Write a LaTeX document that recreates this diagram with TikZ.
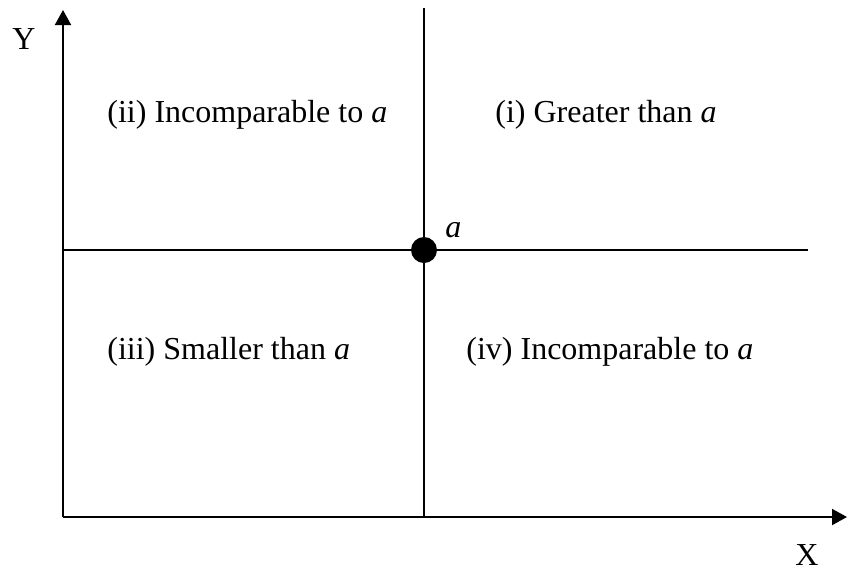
\documentclass[tikz,border=0pt]{standalone}
\usepackage{fontspec}
\setmainfont{Liberation Serif}
\usetikzlibrary{arrows.meta}
\begin{document}
\begin{tikzpicture}[x=0.5pt,y=-0.5pt,
    axis/.style={line width=1pt,-{Triangle[length=7.5pt,width=8pt]}},
    divider/.style={line width=0.8pt},
    region/.style={anchor=base west,inner sep=0pt,font=\fontsize{16}{19}\selectfont}]
  \useasboundingbox (0,0) rectangle (847,570);

  % Axes
  \coordinate (origin) at (63,517);
  \coordinate (ytip) at (63,10);
  \coordinate (xtip) at (847,517);
  \draw[axis] (origin) -- (ytip);
  \draw[axis] (origin) -- (xtip);
  \node[region] (ylab) at (12,49) {Y};
  \node[region] (xlab) at (795,565) {X};

  % Lines through a
  \coordinate (vtop) at (424,8);
  \coordinate (vbot) at (424,517);
  \coordinate (hleft) at (63,250);
  \coordinate (hright) at (808,250);
  \draw[divider] (vtop) -- (vbot);
  \draw[divider] (hleft) -- (hright);
  \node[circle,fill,inner sep=0pt,minimum size=13pt] (a) at (424,250) {};
  \node[region] (alab) at (445,237) {\itshape a};

  % Regions
  \node[region] (ii) at (107,122) {(ii) Incomparable to \textit{a}};
  \node[region] (i) at (495,122) {(i) Greater than \textit{a}};
  \node[region] (iii) at (107,359) {(iii) Smaller than \textit{a}};
  \node[region] (iv) at (466,359) {(iv) Incomparable to \textit{a}};
\end{tikzpicture}
\end{document}
